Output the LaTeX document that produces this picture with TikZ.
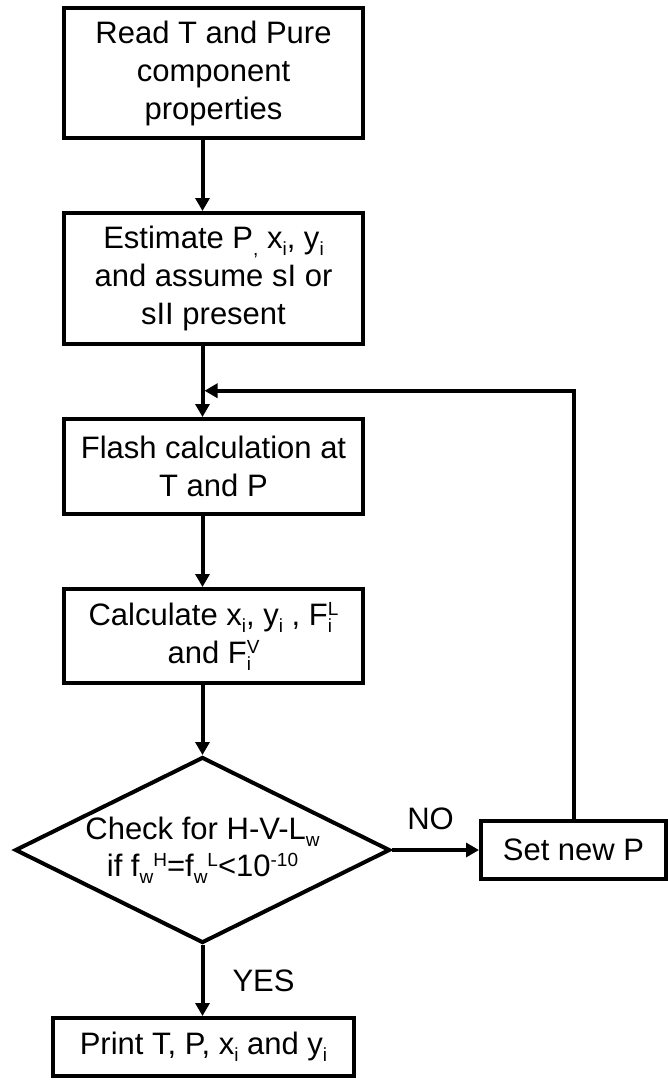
\documentclass[tikz,border=0pt]{standalone}
\usepackage{fontspec}
\setmainfont{Liberation Sans}
\usetikzlibrary{arrows.meta, calc, positioning, shapes.geometric}
\tikzset{
->, % every connector ends in a head
>={Triangle[width=14pt,length=13pt]}, % filled heads as in the chart
node distance=71pt, % gap between the steps of the chart
box/.style={draw, rectangle, minimum width=299pt, align=center, inner sep=2pt, font=\fontsize{31}{38}\selectfont},
test/.style={draw, diamond, aspect=2, inner sep=0pt, minimum width=375pt, minimum height=186pt, align=center, font=\fontsize{31}{37}\selectfont},
tag/.style={inner sep=0pt, font=\fontsize{31}{36}\selectfont},
}
\newcommand{\lo}[1]{\raisebox{-7pt}{\fontsize{19}{19}\selectfont #1}}
\newcommand{\hi}[1]{\raisebox{10pt}{\fontsize{19}{19}\selectfont #1}}
\newcommand{\lohi}[2]{\rlap{\lo{#1}}\hi{#2}}

\begin{document}
\begin{tikzpicture}[line width=4pt, x=1pt, y=-1pt]
  \useasboundingbox (0,0) rectangle (668,1082);
  \node[box, minimum height=130pt] (read) at (213.5,73) {Read T and Pure\\component\\properties};
  \node[box, minimum height=131pt, below=of read] (est) {Estimate P\lo{,} x\lo{i}, y\lo{i}\\and assume sI or\\sII present};
  \node[box, minimum height=95pt, below=of est] (flash) {Flash calculation at\\T and P};
  \node[box, minimum height=94pt, below=of flash] (calc) {Calculate x\lo{i}, y\lo{i} , F\lohi{i}{L}\\and F\lohi{i}{V}};
  \node[test, below=70pt of calc, xshift=-11pt] (chk) {Check for H-V-L\lo{w}\\if f\lo{w}\hi{H}=f\lo{w}\hi{L}<10\hi{-10}};
  \node[box, minimum width=185pt, minimum height=58pt, right=87pt of chk] (setp) {Set new P};
  \node[box, minimum width=301pt, minimum height=58pt, below=71pt of chk, xshift=1pt] (print) {Print T, P, x\lo{i} and y\lo{i}};

  \draw (read.south -| chk.north) -- (est.north -| chk.north);
  \draw (est.south -| chk.north) -- (flash.north -| chk.north);
  \draw (flash.south -| chk.north) -- (calc.north -| chk.north);
  \draw (calc.south -| chk.north) -- (chk.north);
  \draw (chk.south) -- node[tag, right=28pt]{YES} (print.north -| chk.south);
  \draw (chk.east) -- node[tag, above=18pt, xshift=-5pt]{NO} (setp.west);
  \coordinate (join) at ($(est.south -| chk.north)!0.63!(flash.north -| chk.north) + (2,0)$);
  \draw (setp.north) |- (join);
\end{tikzpicture}
\end{document}
